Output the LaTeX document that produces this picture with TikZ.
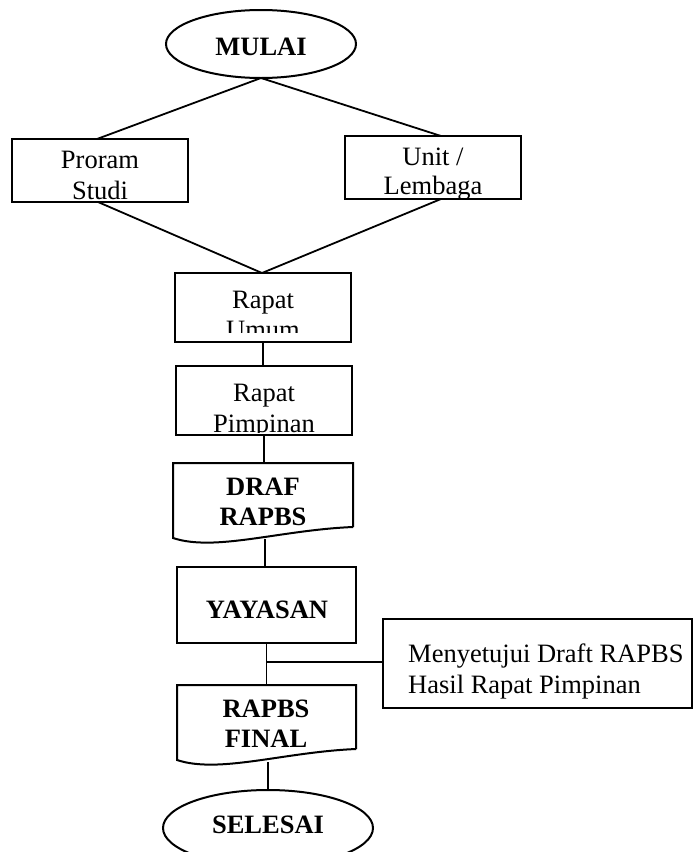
\documentclass[tikz,border=0pt]{standalone}
\usepackage{fontspec}
\setmainfont{Liberation Serif}
\usetikzlibrary{shapes.geometric,calc}

% wavy "document" outline around a frame node #1
\newcommand\docoutline[1]{%
  \draw[edge] (#1.south east) -- (#1.north east) -- (#1.north west)
    -- ($(#1.south west)+(0,11)$)
    .. controls ($(#1.south west)+(42,25)$) and ($(#1.south west)+(107,3)$) .. (#1.south east);
}

\tikzset{
  edge/.style={line width=2pt, line join=miter},
  conn/.style={line width=1.8pt},
  terminal/.style={ellipse, draw, edge, inner sep=0pt, outer sep=0pt},
  procbox/.style={rectangle, draw, edge, inner sep=0pt, outer sep=0pt},
  docframe/.style={rectangle, inner sep=0pt, outer sep=0pt},
  txt/.style={font=\fontsize{26.5}{30.5}\selectfont, inner sep=0pt, anchor=base},
  boldtxt/.style={txt, font=\fontsize{26.5}{30.5}\selectfont\bfseries},
}

\begin{document}
\begin{tikzpicture}[x=1pt, y=-1pt]
\useasboundingbox (0,0) rectangle (693,852);
\clip (0,0) rectangle (693,852);

% ---- shapes ----
\node[terminal, minimum width=190, minimum height=68] (mulai) at (261,44) {};
\node[procbox, minimum width=176, minimum height=63] (prodi) at (100,170.5) {};
\node[procbox, minimum width=176, minimum height=63] (unit) at (433,167.5) {};
\node[procbox, minimum width=176, minimum height=69] (umum) at (263,307.5) {};
\node[procbox, minimum width=176, minimum height=69] (pimp) at (264,400.5) {};
\node[docframe, minimum width=180, minimum height=64] (draf) at (263,495) {};
\docoutline{draf}
\node[procbox, minimum width=179, minimum height=76] (yayasan) at (266.5,605) {};
\node[docframe, minimum width=179, minimum height=64] (final) at (266.5,717) {};
\docoutline{final}
\node[terminal, minimum width=210, minimum height=76] (selesai) at (268,828) {};
\node[procbox, minimum width=309, minimum height=89] (note) at (537.5,663.5) {};

% ---- texts ----
\node[boldtxt] (mulai-t) at (261,55) {MULAI};
\node[txt] (prodi-t1) at (100,168) {Proram};
\node[txt] (prodi-t2) at (100,199) {Studi};
\begin{scope}
  \clip (unit.north west) rectangle (unit.south east);
  \node[txt] (unit-t1) at (433,165) {Unit /};
  \node[txt] (unit-t2) at (433,194.5) {Lembaga};
\end{scope}
\node[txt] (umum-t1) at (263,308.3) {Rapat};
\begin{scope}
  \clip (umum.north west) rectangle ($(umum.south east)+(0,-9.5)$);
  \node[txt] (umum-t2) at (263,338.8) {Umum};
\end{scope}
\node[txt] (pimp-t1) at (264,401.7) {Rapat};
\begin{scope}
  \clip (pimp.north west) rectangle ($(pimp.south east)+(0,-2.5)$);
  \node[txt] (pimp-t2) at (264,432.2) {Pimpinan};
\end{scope}
\node[boldtxt] (draf-t1) at (263,495) {DRAF};
\node[boldtxt] (draf-t2) at (263,525) {RAPBS};
\node[boldtxt] (yayasan-t) at (267,618) {YAYASAN};
\node[boldtxt] (final-t1) at (266,717) {RAPBS};
\node[boldtxt] (final-t2) at (266,747) {FINAL};
\node[boldtxt] (selesai-t) at (268,833) {SELESAI};
\node[txt, anchor=base west] (note-t1) at (408,662) {Menyetujui Draft RAPBS};
\node[txt, anchor=base west] (note-t2) at (408,693) {Hasil Rapat Pimpinan};

% ---- connectors ----
\coordinate (prodiIn) at ($(prodi.north)+(-3,0)$);
\coordinate (prodiOut) at ($(prodi.south)+(-2,0)$);
\coordinate (unitIn) at ($(unit.north)+(8,0)$);
\coordinate (unitOut) at ($(unit.south)+(8,0)$);
\coordinate (umumIn) at ($(umum.north)+(-1,0)$);
\coordinate (drafOut) at ($(draf.south west)+(92,12)$);
\coordinate (finalOut) at ($(final.south west)+(91,13)$);
\coordinate (branch) at ($(yayasan.south |- note.west)+(0,-1.5)$);

\draw[conn] (mulai.south) -- (prodiIn);
\draw[conn] (mulai.south) -- (unitIn);
\draw[conn] (prodiOut) -- (umumIn);
\draw[conn] (unitOut) -- (umumIn);
\draw[conn] (umum.south) -- (umum.south |- pimp.north);
\draw[conn] (pimp.south) -- (pimp.south |- draf.north);
\draw[conn] (drafOut) -- (drafOut |- yayasan.north);
\draw[conn] (yayasan.south) -- (final.north);
\draw[conn] (branch) -- (branch -| note.west);
\draw[conn] (finalOut) -- (finalOut |- selesai.north);
\end{tikzpicture}
\end{document}
